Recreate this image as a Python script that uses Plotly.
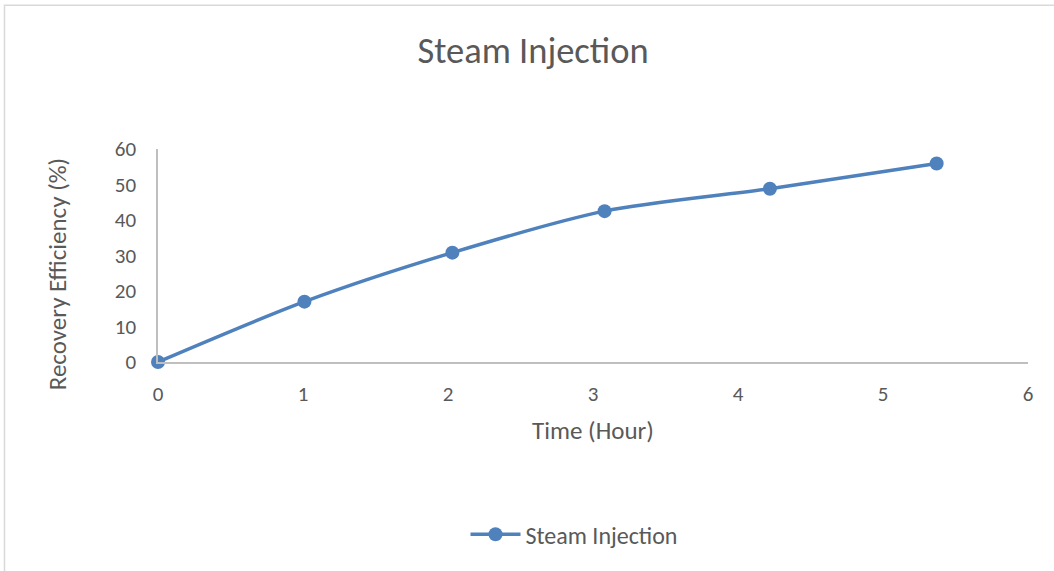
import plotly.graph_objects as go

time_hours = [0, 1.01, 2.03, 3.08, 4.22, 5.37]
recovery_pct = [0, 17.0, 30.8, 42.5, 48.8, 55.9]
series_name = "Steam Injection"
x_ticks = [0, 1, 2, 3, 4, 5, 6]
y_ticks = [0, 10, 20, 30, 40, 50, 60]

FONT = "Calibri, Carlito, Lato, sans-serif"
TXT = "#595959"
BLUE = "#4F81BD"
AX = "#BFBFBF"

fig = go.Figure()
fig.add_trace(go.Scatter(
    x=time_hours, y=recovery_pct, name=series_name,
    mode="lines+markers",
    line=dict(color=BLUE, width=3.5, shape="spline", smoothing=0.8),
    marker=dict(color=BLUE, size=14),
    cliponaxis=False,
))

W, H = 1054, 571
L, R, T, B = 158, 26, 148.5, 209
pw, ph = W - L - R, H - T - B

fig.update_layout(
    width=W, height=H,
    margin=dict(l=L, r=R, t=T, b=B),
    paper_bgcolor="white", plot_bgcolor="white",
    font=dict(family=FONT, color=TXT),
    title=dict(text="Steam Injection", x=533 / W, xanchor="center",
               y=1 - 50 / H, yanchor="middle",
               font=dict(size=36.5, color=TXT, family=FONT)),
    showlegend=True,
    legend=dict(orientation="h", x=(574 - L) / pw, xanchor="center",
                y=(H - B - 535) / ph, yanchor="middle", itemwidth=50,
                font=dict(size=24, color=TXT, family=FONT)),
    xaxis=dict(range=[0, 6], tickvals=x_ticks, showgrid=False, zeroline=False,
               showline=True, linecolor=AX, linewidth=1.5,
               ticks="outside", ticklen=12, tickcolor="rgba(0,0,0,0)",
               tickfont=dict(size=21, color=TXT),
               title=dict(text="Time (Hour)", font=dict(size=25, color=TXT), standoff=16)),
    yaxis=dict(range=[0, 60], tickvals=y_ticks, showgrid=False, zeroline=False,
               showline=True, linecolor=AX, linewidth=1.5,
               ticks="outside", ticklen=16, tickcolor="rgba(0,0,0,0)",
               tickfont=dict(size=21, color=TXT)),
    annotations=[dict(text="Recovery Efficiency (%)", textangle=-90, showarrow=False,
                      xref="paper", yref="paper",
                      x=(57 - L) / pw, y=(H - B - 274) / ph,
                      xanchor="center", yanchor="middle",
                      font=dict(size=25, color=TXT, family=FONT))],
    shapes=[dict(type="rect", xref="paper", yref="paper",
                 x0=(4.5 - L) / pw, x1=(W + 10 - L) / pw,
                 y0=(H - B - (H + 10)) / ph, y1=(H - B - 4.5) / ph,
                 line=dict(color="#D9D9D9", width=1.5), layer="below")],
)

fig.write_html("out.html", config={"displayModeBar": False},
               post_script="document.body.style.margin='0';document.body.style.overflow='hidden';")
